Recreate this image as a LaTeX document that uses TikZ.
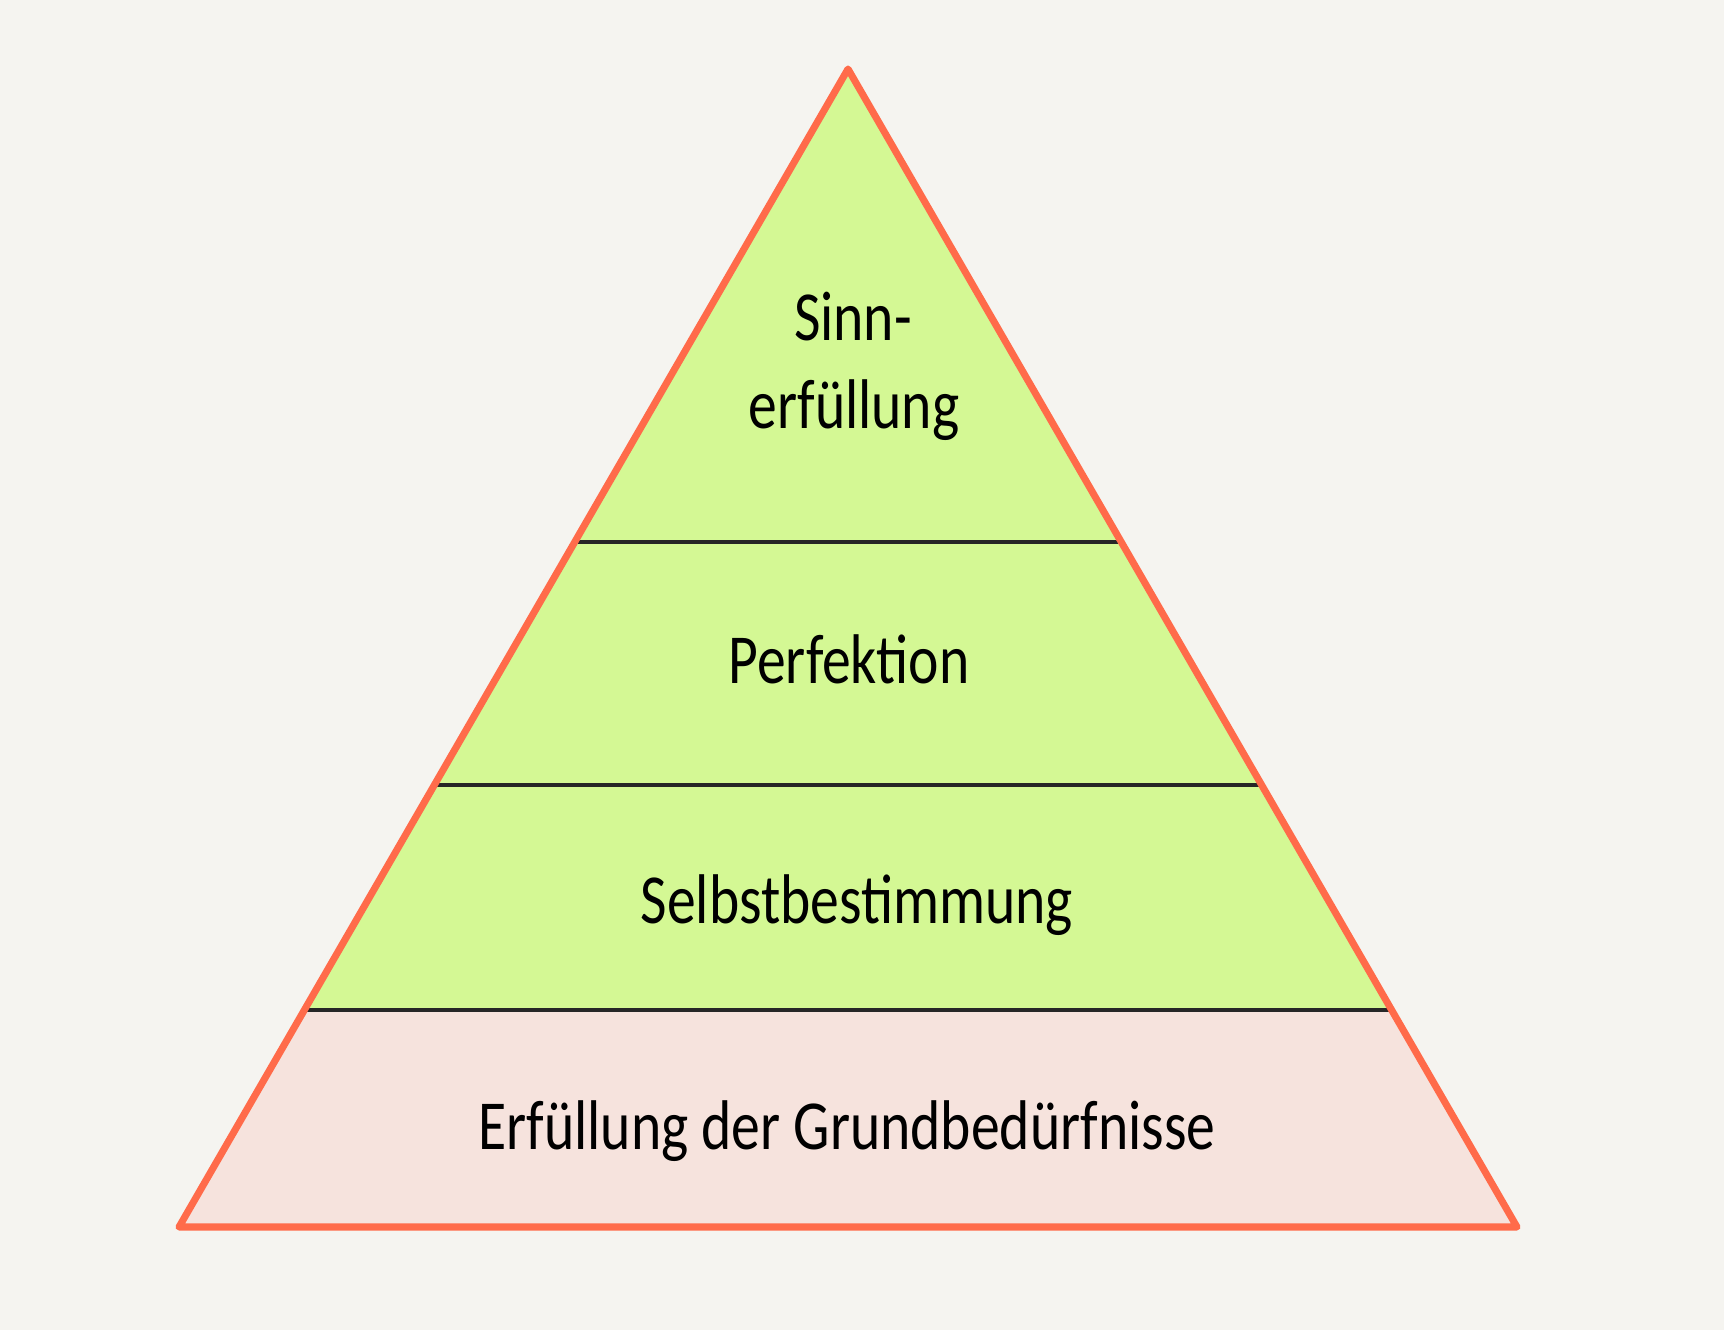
\documentclass[tikz,border=0pt]{standalone}
\usepackage{fontspec}
\newfontfamily\handfont{Carlito}[FakeStretch=0.82]
\definecolor{paper}{RGB}{245,244,240}
\definecolor{leaf}{RGB}{212,248,148}
\definecolor{blush}{RGB}{246,227,221}
\definecolor{coral}{RGB}{255,107,74}
\definecolor{ink}{RGB}{38,38,38}
\usetikzlibrary{calc}
\tikzset{
  label text/.style={font=\handfont\fontsize{20}{24}\selectfont, text=black, anchor=base, inner sep=0pt},
  divider/.style={ink, line width=1.4pt, line cap=round},
  outline/.style={coral, line width=2pt, line join=round}
}

\begin{document}
\begin{tikzpicture}[x=0.1mm, y=-0.1mm]
        \fill[paper] (0,0) rectangle (1724,1330);
        \coordinate (apex) at (848,69);
        \coordinate (bl) at (179,1227);
        \coordinate (br) at (1517,1227);
        % level borders on both sides
        \foreach \t/\n in {0.4085/1, 0.6183/2, 0.8126/3} {
          \coordinate (l\n) at ($(apex)!\t!(bl)$);
          \coordinate (r\n) at ($(apex)!\t!(br)$);
        }
        \fill[leaf] (apex) -- (l3) -- (r3) -- cycle;
        \fill[blush] (l3) -- (bl) -- (br) -- (r3) -- cycle;
        \foreach \n in {1,2,3}
          \draw[divider] (l\n) -- (r\n);
        \draw[outline] (apex) -- (bl) -- (br) -- cycle;
        \node[label text] (sinn) at (853,341) {Sinn-};
        \node[label text] (erfuellung) at (854,429) {erfüllung};
        \node[label text] (perfektion) at (849,684) {Perfektion};
        \node[label text] (selbst) at (857,924) {Selbstbestimmung};
        \node[label text] (grund) at (847,1149) {Erfüllung der Grundbedürfnisse};
      \end{tikzpicture}
\end{document}
